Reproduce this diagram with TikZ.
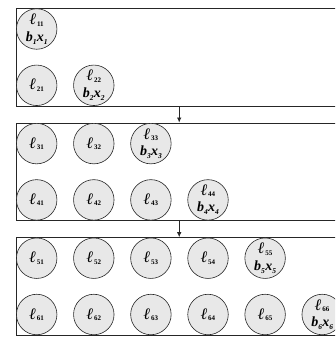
\documentclass[tikz,border=0pt]{standalone}
\usepackage{fontspec}
\setmainfont{Liberation Serif}
\usetikzlibrary{arrows.meta}
\newcommand{\ellsub}[1]{{\fontsize{16}{16}\selectfont\bfseries\itshape ℓ}{\fontsize{7}{7}\selectfont\bfseries\kern0.6pt\raisebox{-1.5pt}{#1}}}
\newcommand{\bxsub}[1]{{\bfseries\itshape b\raisebox{-3pt}{\fontsize{7.5}{7.5}\selectfont #1}\kern0.3pt x\raisebox{-3pt}{\fontsize{7.5}{7.5}\selectfont #1}}}
\tikzset{
  cell/.style={circle, draw=black!85, line width=0.6pt, fill=black!9, minimum size=40.5pt, inner sep=0pt, align=center, font=\fontsize{14}{16.5}\selectfont},
  stage/.style={rectangle, draw=black!85, line width=0.9pt, anchor=north west, minimum width=340pt, minimum height=97.8pt, inner sep=0pt},
  arr/.style={draw=black!85, line width=0.8pt, -{Latex[length=5pt,width=4.5pt]}}
}
\begin{document}
\begin{tikzpicture}[x=1pt,y=-1pt]
\useasboundingbox (0,0) rectangle (335,339);
\clip (0,0) rectangle (335,339);
% stages
\node[stage] (box1) at (15.7,8) {};
\node[stage] (box2) at (15.7,122.6) {};
\node[stage] (box3) at (15.7,237.2) {};
\coordinate (ax) at (179.2,0);
\draw[arr] (box1.south -| ax) -- (box2.north -| ax);
\draw[arr] (box2.south -| ax) -- (box3.north -| ax);
% stage 1
\node[cell] (n11) at (36.7,29) {\ellsub{11}\\\bxsub{1}};
\node[cell] (n21) at (36.7,85.3) {\ellsub{21}};
\node[cell] (n22) at (93.8,85.3) {\ellsub{22}\\\bxsub{2}};
% stage 2
\node[cell] (n31) at (36.7,143.6) {\ellsub{31}};
\node[cell] (n32) at (93.8,143.6) {\ellsub{32}};
\node[cell] (n33) at (150.9,143.6) {\ellsub{33}\\\bxsub{3}};
\node[cell] (n41) at (36.7,199.9) {\ellsub{41}};
\node[cell] (n42) at (93.8,199.9) {\ellsub{42}};
\node[cell] (n43) at (150.9,199.9) {\ellsub{43}};
\node[cell] (n44) at (208,199.9) {\ellsub{44}\\\bxsub{4}};
% stage 3
\node[cell] (n51) at (36.7,258.2) {\ellsub{51}};
\node[cell] (n52) at (93.8,258.2) {\ellsub{52}};
\node[cell] (n53) at (150.9,258.2) {\ellsub{53}};
\node[cell] (n54) at (208,258.2) {\ellsub{54}};
\node[cell] (n55) at (265.1,258.2) {\ellsub{55}\\\bxsub{5}};
\node[cell] (n61) at (36.7,314.5) {\ellsub{61}};
\node[cell] (n62) at (93.8,314.5) {\ellsub{62}};
\node[cell] (n63) at (150.9,314.5) {\ellsub{63}};
\node[cell] (n64) at (208,314.5) {\ellsub{64}};
\node[cell] (n65) at (265.1,314.5) {\ellsub{65}};
\node[cell] (n66) at (322.2,314.5) {\ellsub{66}\\\bxsub{6}};
\end{tikzpicture}
\end{document}
